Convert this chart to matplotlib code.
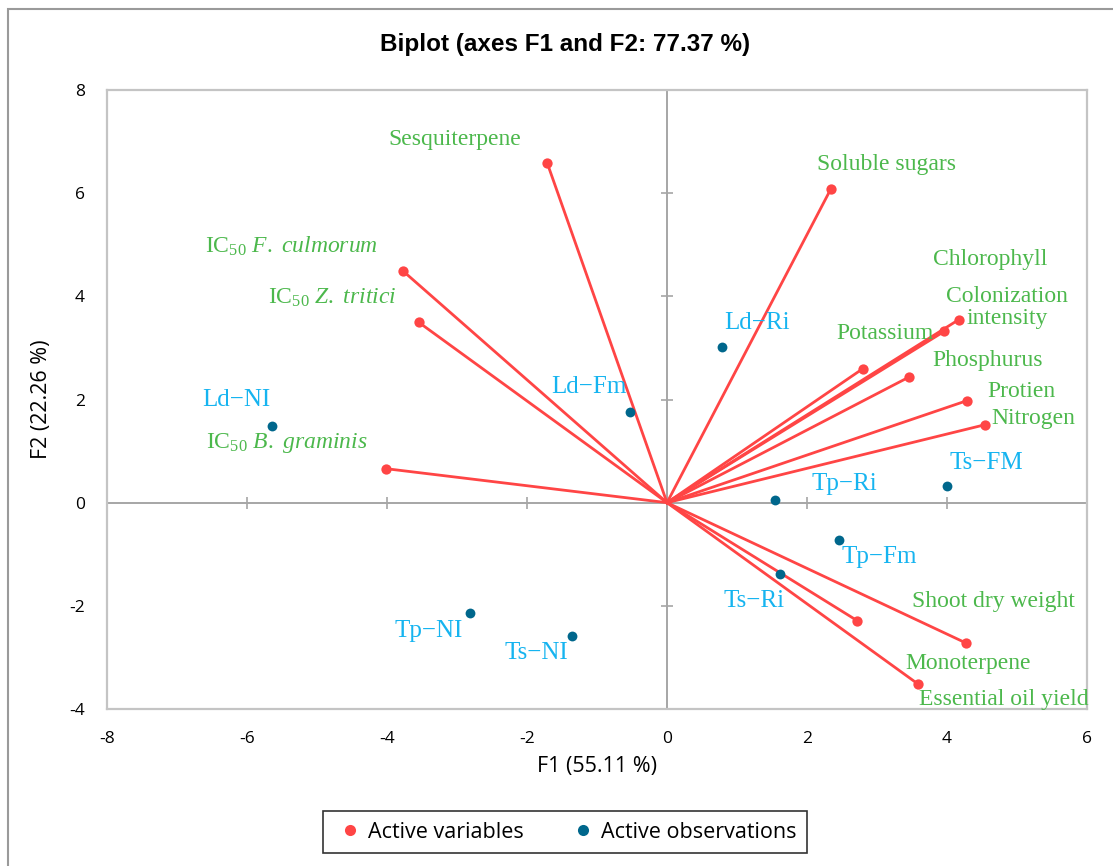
import matplotlib
matplotlib.use("Agg")
import matplotlib.pyplot as plt
from matplotlib.patches import Rectangle
from matplotlib.lines import Line2D

# ---------------- data ----------------
var_names = ["Sesquiterpene", "Soluble sugars",
             r"IC$_{50}$ $\mathit{F.\ culmorum}$", r"IC$_{50}$ $\mathit{Z.\ tritici}$",
             r"IC$_{50}$ $\mathit{B.\ graminis}$",
             "Chlorophyll", "Colonization\nintensity", "Potassium", "Phosphurus",
             "Protien", "Nitrogen", "Shoot dry weight", "Monoterpene", "Essential oil yield"]
var_f1 = [-1.71, 2.34, -3.77, -3.55, -4.02, 4.17, 3.96, 2.80, 3.45, 4.29, 4.54, 4.27, 2.72, 3.58]
var_f2 = [6.58, 6.08, 4.49, 3.50, 0.66, 3.55, 3.32, 2.60, 2.43, 1.98, 1.51, -2.72, -2.29, -3.51]

obs_names = ["Ld\u2212Ri", "Ld\u2212Fm", "Ld\u2212NI", "Tp\u2212Ri", "Ts\u2212FM",
             "Tp\u2212Fm", "Ts\u2212Ri", "Tp\u2212NI", "Ts\u2212NI"]
obs_f1 = [0.78, -0.53, -5.65, 1.54, 4.00, 2.46, 1.61, -2.82, -1.36]
obs_f2 = [3.01, 1.75, 1.48, 0.06, 0.33, -0.72, -1.38, -2.14, -2.58]

x_ticks = [-8, -6, -4, -2, 0, 2, 4, 6]
y_ticks = [-4, -2, 0, 2, 4, 6, 8]

# label offsets (pixels) for text placement
var_off = [(-93, 24), (56, 25), (-112, 25), (-86, 24), (-99, 26), (31, 60), (63, 24),
           (22, 35), (79, 17), (54, 9), (48, 6), (28, 41), (111, -43), (86, -16)]
obs_off = [(35, 24), (-41, 25), (-35, 26), (70, 16), (39, 23), (40, -17), (-26, -27),
           (-41, -18), (-35, -17)]

RED = "#FF4545"
DBLUE = "#00678C"
CYAN = "#16B4F0"
GREEN = "#4CB84C"

plt.rcParams["mathtext.fontset"] = "custom"
plt.rcParams["mathtext.rm"] = "Liberation Serif"
plt.rcParams["mathtext.it"] = "Liberation Serif:italic"
plt.rcParams["axes.unicode_minus"] = False

fig = plt.figure(figsize=(11.13, 8.66), dpi=100)
fig.patches.append(Rectangle((8 / 1113, -0.1), 1.2, 1 - 9.5 / 866 + 0.1,
                             transform=fig.transFigure, fill=False,
                             edgecolor="#9A9A9A", linewidth=1.5))
ax = fig.add_axes([107 / 1113, 1 - 709 / 866, 980 / 1113, 619 / 866])
ax.set_xlim(-8, 6)
ax.set_ylim(-4, 8)
for s in ax.spines.values():
    s.set_color("#C4C4C4")
    s.set_linewidth(1.6)

ax.axhline(0, color="#A6A6A6", lw=1.4, zorder=1)
ax.axvline(0, color="#A6A6A6", lw=1.4, zorder=1)
ax.plot(x_ticks, [0] * len(x_ticks), ls="none", marker="|", ms=9, mew=1.2,
        color="#A6A6A6", zorder=1)
ax.plot([0] * len(y_ticks), y_ticks, ls="none", marker="_", ms=9, mew=1.2,
        color="#A6A6A6", zorder=1)

ax.set_xticks(x_ticks)
ax.set_yticks(y_ticks)
ax.tick_params(length=0, labelsize=12.5, pad=16)
for lab in ax.get_xticklabels() + ax.get_yticklabels():
    lab.set_fontfamily("Open Sans")

for x, y in zip(var_f1, var_f2):
    ax.plot([0, x], [0, y], color=RED, lw=2, zorder=2)
ax.scatter(var_f1, var_f2, s=55, color=RED, zorder=3, linewidths=0)
ax.scatter(obs_f1, obs_f2, s=50, color=DBLUE, zorder=3, linewidths=0)

for name, x, y, (dx, dy) in zip(var_names, var_f1, var_f2, var_off):
    ax.annotate(name, (x, y), xytext=(dx, dy), textcoords="offset pixels",
                ha="center", va="center", color=GREEN, fontsize=17,
                family="Liberation Serif", linespacing=1.1)
for name, x, y, (dx, dy) in zip(obs_names, obs_f1, obs_f2, obs_off):
    ax.annotate(name, (x, y), xytext=(dx, dy), textcoords="offset pixels",
                ha="center", va="center", color=CYAN, fontsize=18,
                family="Liberation Serif")

ax.set_xlabel("F1 (55.11 %)", fontsize=15.5, family="Open Sans", labelpad=6)
ax.set_ylabel("F2 (22.26 %)", fontsize=15.5, family="Open Sans", labelpad=12)
fig.text(565 / 1113, 1 - 45 / 866, "Biplot (axes F1 and F2: 77.37 %)",
         ha="center", va="center", fontsize=17.5, fontweight="bold",
         family="Liberation Sans")

handles = [Line2D([], [], ls="none", marker="o", ms=8, color=RED, mec="none"),
           Line2D([], [], ls="none", marker="o", ms=8, color=DBLUE, mec="none")]
leg = fig.legend(handles, ["Active variables", "Active observations"],
                 loc="center", bbox_to_anchor=(565 / 1113, 1 - 832 / 866),
                 ncol=2, frameon=True, fancybox=False, edgecolor="black",
                 prop={"family": "Open Sans", "size": 15.5}, handletextpad=0.1,
                 columnspacing=2.0, borderpad=0.5, handlelength=1.5)
leg.get_frame().set_linewidth(1.2)

fig.savefig("out.png", dpi=100)
